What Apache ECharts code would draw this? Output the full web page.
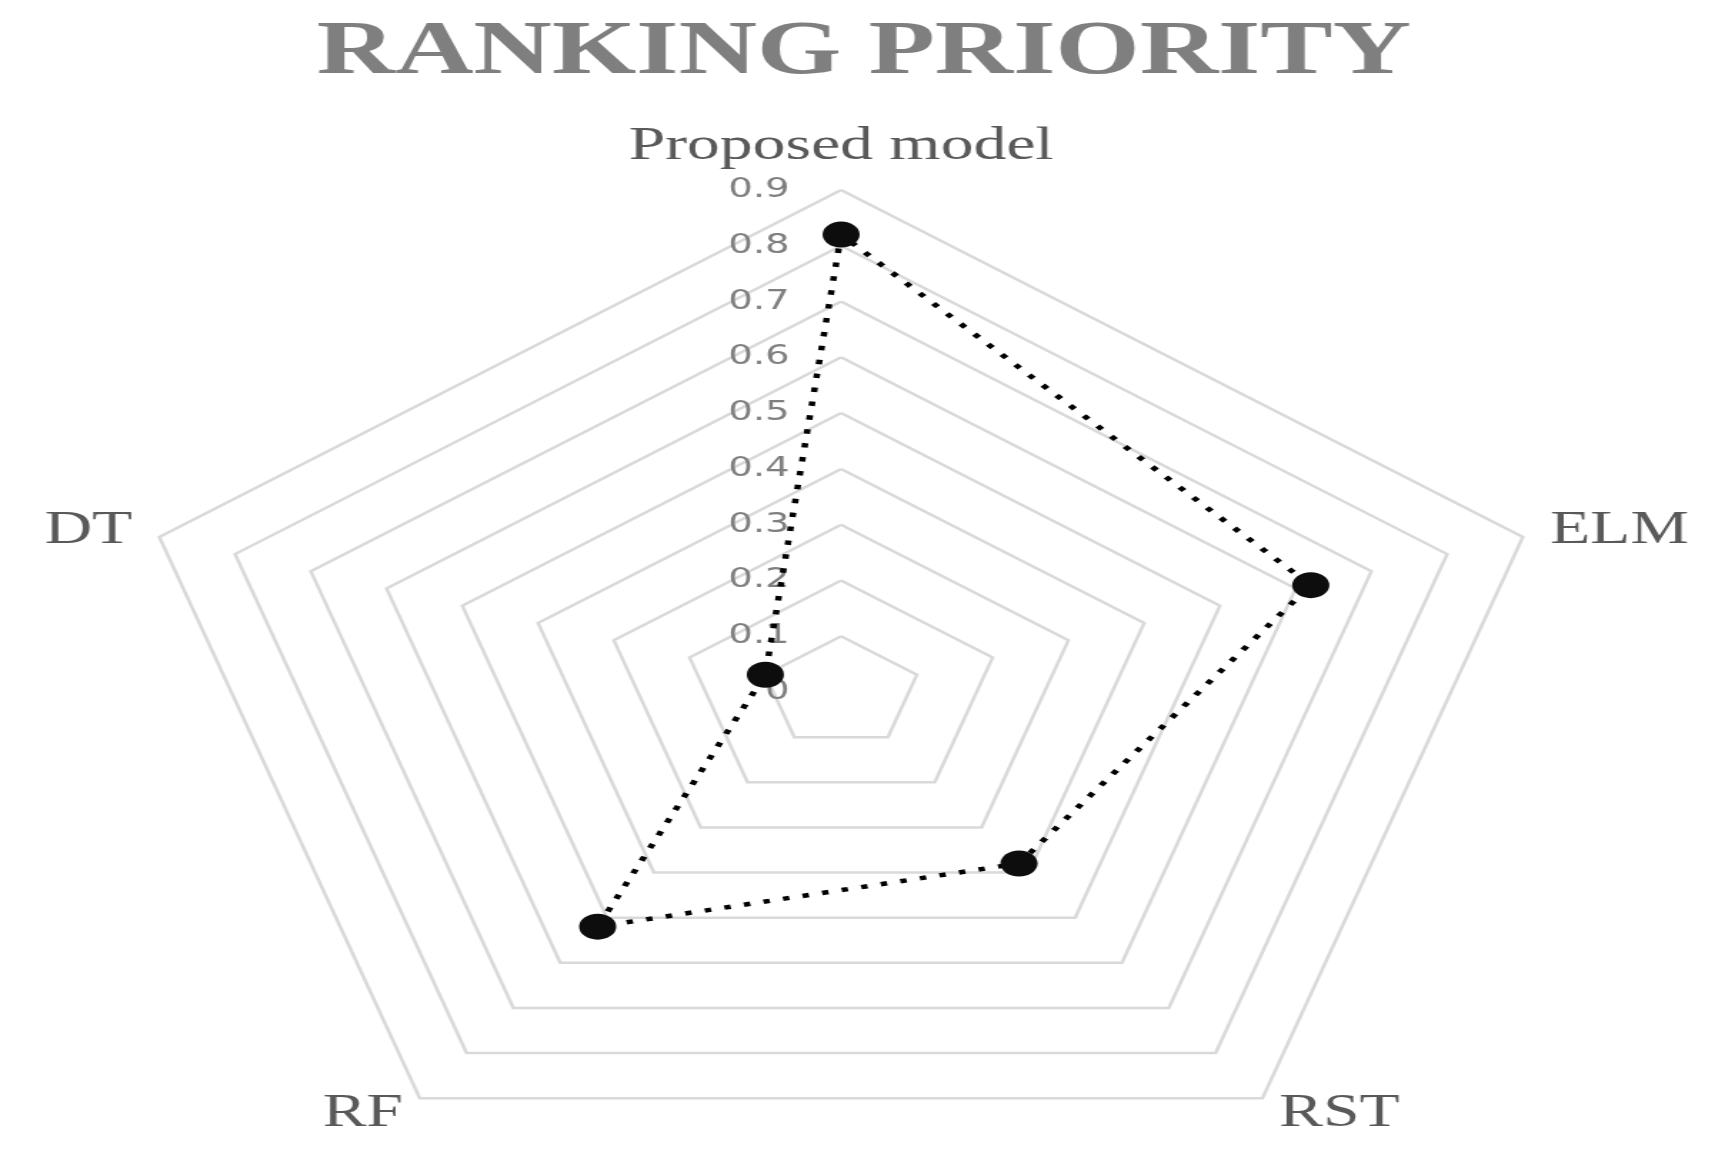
<!DOCTYPE html>
<html>
<head>
<meta charset="utf-8">
<script src="https://cdn.jsdelivr.net/npm/echarts@6/dist/echarts.min.js"></script>
<style>
  html, body { margin: 0; padding: 0; background: #fff; overflow: hidden; }
  #wrap { width: 1728px; height: 1170px; overflow: hidden; }
  /* the source picture is stretched sideways, so the chart is drawn narrow and widened */
  #chart { width: 1210px; height: 1170px; transform: scaleX(1.428); transform-origin: 0 0; }
</style>
</head>
<body>
<div id="wrap"><div id="chart"></div></div>
<script>
// indicators in the order ECharts lays them out (counterclockwise from the top)
const models = ['Proposed model', 'DT', 'RF', 'RST', 'ELM'];
const priority = [0.82, 0.1, 0.52, 0.38, 0.62];
const ringMax = 0.9;
const ringCount = 9;

const chart = echarts.init(document.getElementById('chart'));

const indicator = models.map((name, i) => {
  const item = { name: name, max: ringMax, min: 0 };
  // only the top axis carries the 0 ... 0.9 labels
  if (i === 0) {
    item.axisLabel = { show: true };
  }
  return item;
});

const option = {
  backgroundColor: '#fff',
  animation: false,
  title: {
    text: 'RANKING PRIORITY',
    left: 'center',
    top: 10,
    textStyle: {
      fontFamily: 'Liberation Serif',
      fontWeight: 'bold',
      fontSize: 76,
      color: '#7f7f7f'
    }
  },
  radar: {
    center: [589, 692],
    radius: 502,
    splitNumber: ringCount,
    shape: 'polygon',
    indicator: indicator,
    nameGap: 20,
    axisName: {
      color: '#595959',
      fontFamily: 'Liberation Serif',
      fontSize: 46
    },
    axisLine: { show: false },
    axisTick: { show: false },
    splitArea: { show: false },
    splitLine: {
      lineStyle: { color: '#d9d9d9', width: 2.5 }
    },
    axisLabel: {
      show: false,
      margin: 36,
      align: 'right',
      color: '#7f7f7f',
      fontFamily: 'DejaVu Sans',
      fontSize: 27
    }
  },
  series: [{
    type: 'radar',
    symbol: 'circle',
    symbolSize: 26,
    itemStyle: { color: '#0d0d0d' },
    lineStyle: { color: '#000', width: 4.5, type: [4.5, 9.5] },
    data: [{ value: priority, name: 'Ranking priority' }]
  }]
};

chart.setOption(option);
</script>
</body>
</html>
